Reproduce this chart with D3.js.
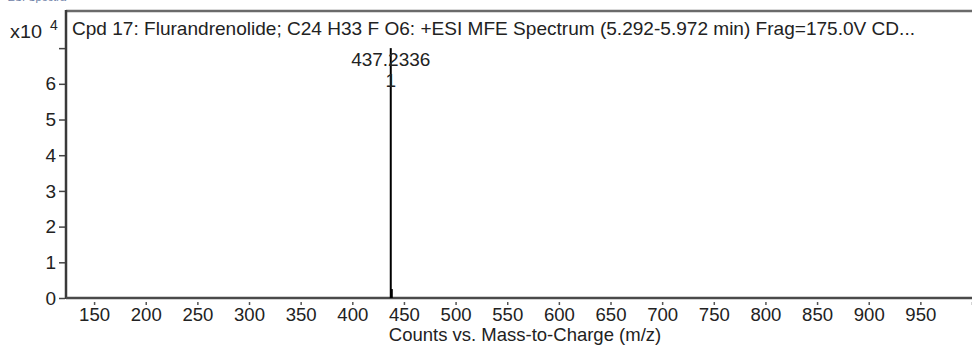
<!DOCTYPE html>
<html>
<head>
<meta charset="utf-8">
<script src="https://cdn.jsdelivr.net/npm/d3@7"></script>
<style>
  html, body { margin: 0; padding: 0; background: #fff; }
  svg { display: block; font-family: "Liberation Sans", Arial, sans-serif; }
</style>
</head>
<body>
<svg id="chart" width="972" height="345"></svg>
<script>
// Spectrum lines: m/z and counts
const mzValues = [437.2336, 438.24];
const countValues = [70000, 2500];
const peakLabels = ["437.2336\n1", ""];

// Axis ticks
const xTicks = [150, 200, 250, 300, 350, 400, 450, 500, 550, 600, 650, 700, 750, 800, 850, 900, 950, 1000];
const xTickLabels = ["150", "200", "250", "300", "350", "400", "450", "500", "550", "600", "650", "700", "750", "800", "850", "900", "950", ""];
const yTicks = [0, 10000, 20000, 30000, 40000, 50000, 60000, 70000];
const yTickLabels = ["0", "1", "2", "3", "4", "5", "6", ""];

const headerText = "+ESI Spectra";
const titleText = "Cpd 17: Flurandrenolide; C24 H33 F O6: +ESI MFE Spectrum (5.292-5.972 min) Frag=175.0V CD...";
const xTitle = "Counts vs. Mass-to-Charge (m/z)";

const FONT = "'Liberation Sans', Arial, sans-serif";
const svg = d3.select("#chart");
const plotLeft = 66, plotRight = 972, plotTop = 11, plotBottom = 298;

const x = d3.scaleLinear().domain([122.8, 1000]).range([plotLeft, plotRight]);
const y = d3.scaleLinear().domain([0, 80400]).range([plotBottom, plotTop]);

// header line of the report, clipped by the page top
svg.append("text").attr("x", 1).attr("y", 1).attr("font-size", 11)
  .attr("fill", "#6f82a8").text(headerText);

// frame: top border and left axis
svg.append("line").attr("x1", plotLeft).attr("x2", plotRight).attr("y1", plotTop).attr("y2", plotTop)
  .attr("stroke", "#6a6a6a").attr("stroke-width", 2.5);
svg.append("line").attr("x1", plotLeft).attr("x2", plotLeft).attr("y1", plotTop - 1).attr("y2", plotBottom + 1)
  .attr("stroke", "#3a3a3a").attr("stroke-width", 2.5);

// x axis
const xAxis = d3.axisBottom(x).tickValues(xTicks)
  .tickFormat((d, i) => xTickLabels[i]).tickSize(7).tickPadding(3);
const gx = svg.append("g").attr("transform", `translate(0,${plotBottom})`).call(xAxis);
gx.select(".domain").attr("stroke", "#4a4a4a").attr("stroke-width", 2.5).attr("d", `M${plotLeft},0H${plotRight}`);
gx.selectAll(".tick line").attr("stroke", "#555").attr("stroke-width", 1.5).attr("y1", 4).attr("y2", 7);
gx.selectAll(".tick text").attr("font-size", 18).attr("fill", "#222").attr("font-family", FONT)
  .attr("textLength", 31).attr("lengthAdjust", "spacingAndGlyphs")
  .attr("dy", "0.71em");

// y axis
const yAxis = d3.axisLeft(y).tickValues(yTicks)
  .tickFormat((d, i) => yTickLabels[i]).tickSize(6).tickPadding(3);
const gy = svg.append("g").attr("transform", `translate(${plotLeft - 1},0)`).call(yAxis);
gy.select(".domain").remove();
gy.selectAll(".tick line").attr("stroke", "#444").attr("stroke-width", 1.5);
gy.selectAll(".tick text").attr("font-size", 19).attr("fill", "#222").attr("font-family", FONT);

// exponent label
svg.append("text").attr("x", 10).attr("y", 38).attr("font-size", 18).attr("fill", "#222")
  .attr("textLength", 32).attr("lengthAdjust", "spacingAndGlyphs").text("x10");
svg.append("text").attr("x", 50).attr("y", 30).attr("font-size", 14).attr("fill", "#222").text("4");

// title
svg.append("text").attr("x", 72).attr("y", 35).attr("font-size", 19).attr("fill", "#222")
  .attr("textLength", 843).attr("lengthAdjust", "spacingAndGlyphs").text(titleText);

// spectrum lines
svg.append("g").selectAll("line").data(mzValues).join("line")
  .attr("x1", d => x(d)).attr("x2", d => x(d))
  .attr("y1", plotBottom).attr("y2", (d, i) => y(countValues[i]))
  .attr("stroke", "#000").attr("stroke-width", 2);

// peak labels
mzValues.forEach((d, i) => {
  if (!peakLabels[i]) return;
  const lines = peakLabels[i].split("\n");
  const t = svg.append("text").attr("text-anchor", "middle").attr("font-size", 19).attr("fill", "#222");
  lines.forEach((s, k) => {
    t.append("tspan").attr("x", x(d)).attr("y", y(countValues[i]) + 18 + k * 21).text(s);
  });
});

// x axis title
svg.append("text").attr("x", 525).attr("y", 341).attr("text-anchor", "middle")
  .attr("font-size", 18.5).attr("fill", "#222").text(xTitle);
</script>
</body>
</html>
